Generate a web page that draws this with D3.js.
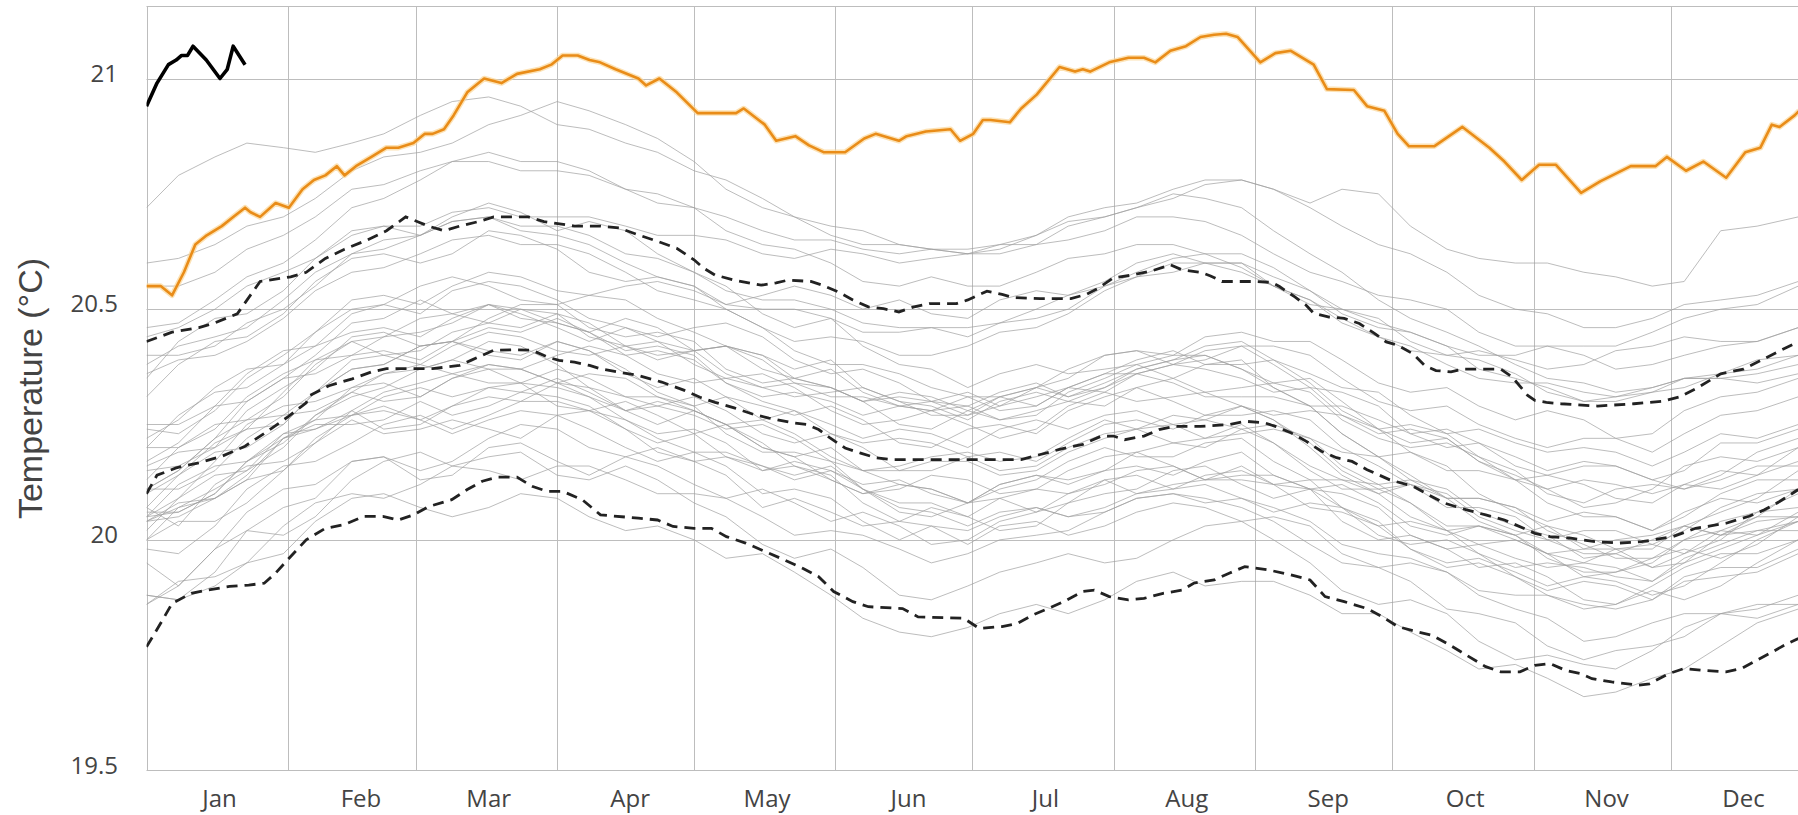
<!DOCTYPE html>
<html>
<head>
<meta charset="utf-8">
<script src="https://cdn.jsdelivr.net/npm/d3@7"></script>
<style>
  body { margin: 0; background: #fff; }
  svg { display: block; }
</style>
</head>
<body>
<svg id="chart" width="1798" height="815"></svg>
<script>
/* ---- axis categories / ticks ---- */
const monthNames  = ['Jan','Feb','Mar','Apr','May','Jun','Jul','Aug','Sep','Oct','Nov','Dec'];
const monthStarts = [0, 31, 59, 90, 120, 151, 181, 212, 243, 273, 304, 334];
const yTicks      = [19.5, 20, 20.5, 21];

/* ---- gray years, sampled about once a week (day of year) ---- */
const sampleDays = [0,7,15,22,30,37,45,52,60,67,75,82,90,97,105,112,120,127,135,142,150,157,165,172,180,187,195,202,210,217,225,232,240,247,255,262,270,277,285,292,300,307,315,322,330,337,345,353,362];
const grayYears = [1982,1983,1984,1985,1986,1987,1988,1989,1990,1991,1992,1993,1994,1995,1996,1997,1998,1999,2000,2001,2002,2003,2004,2005,2006,2007,2008,2009,2010,2011,2012,2013,2014,2015,2016,2017,2018,2019,2020,2021,2022];
const grayValues = [
  [19.88,19.87,19.93,20.02,20.07,20.09,20.17,20.18,20.13,20.14,20.20,20.21,20.17,20.14,20.18,20.20,20.17,20.14,20.07,20.09,20.06,20.03,20.04,20.07,20.05,20.02,20.03,20.08,20.10,20.11,20.15,20.16,20.12,20.09,20.11,20.12,20.08,20.03,20.01,20.03,20.00,19.97,19.98,19.98,19.94,19.95,20.01,20.04,20.05],
  [20.05,20.12,20.16,20.17,20.21,20.27,20.31,20.33,20.37,20.39,20.37,20.34,20.33,20.31,20.26,20.23,20.24,20.21,20.15,20.16,20.14,20.08,20.04,20.03,19.99,20.03,20.04,20.01,20.03,20.06,20.08,20.07,20.04,20.05,20.03,19.97,19.94,19.95,19.93,19.88,19.85,19.83,19.78,19.79,19.82,19.84,19.84,19.83,19.86],
  [19.86,19.90,19.98,20.02,20.01,20.05,20.13,20.17,20.19,20.16,20.18,20.19,20.14,20.13,20.16,20.13,20.08,20.05,19.99,19.96,19.98,19.94,19.88,19.87,19.90,19.93,19.95,19.97,19.95,19.96,20.00,20.03,20.04,20.00,19.95,19.89,19.86,19.87,19.84,19.78,19.74,19.75,19.73,19.72,19.76,19.81,19.84,19.85,19.88],
  [19.88,19.87,19.90,19.95,19.97,20.04,20.09,20.10,20.07,20.05,20.07,20.10,20.09,20.05,20.02,20.03,20.00,19.96,19.97,19.93,19.88,19.83,19.80,19.79,19.81,19.84,19.86,19.84,19.87,19.91,19.93,19.90,19.91,19.91,19.88,19.84,19.84,19.80,19.76,19.72,19.73,19.70,19.66,19.67,19.70,19.72,19.77,19.82,19.85],
  [19.95,19.90,19.98,20.06,20.11,20.12,20.17,20.18,20.15,20.17,20.22,20.25,20.24,20.20,20.18,20.16,20.12,20.09,20.11,20.08,20.04,20.06,20.03,19.99,20.00,20.04,20.06,20.08,20.13,20.14,20.11,20.14,20.15,20.12,20.13,20.13,20.10,20.05,20.02,20.03,20.01,19.97,19.95,19.98,19.99,19.97,20.00,20.06,20.10],
  [20.10,20.14,20.21,20.24,20.25,20.32,20.37,20.38,20.42,20.43,20.40,20.39,20.43,20.41,20.37,20.32,20.29,20.31,20.29,20.27,20.29,20.26,20.21,20.20,20.24,20.25,20.23,20.28,20.31,20.33,20.30,20.27,20.27,20.28,20.26,20.20,20.16,20.12,20.07,20.07,20.05,20.00,19.97,19.97,19.94,19.97,20.02,20.05,20.05],
  [20.05,20.09,20.17,20.25,20.29,20.30,20.33,20.36,20.37,20.39,20.43,20.42,20.38,20.33,20.31,20.31,20.29,20.23,20.19,20.19,20.17,20.11,20.07,20.06,20.03,20.06,20.07,20.05,20.06,20.09,20.10,20.09,20.07,20.04,19.99,19.95,19.94,19.91,19.85,19.84,19.82,19.77,19.74,19.76,19.77,19.79,19.84,19.86,19.86],
  [19.86,19.91,19.92,19.95,20.03,20.08,20.10,20.09,20.12,20.16,20.15,20.13,20.16,20.16,20.13,20.10,20.10,20.09,20.05,20.01,20.02,20.01,19.98,19.95,19.97,20.00,20.01,20.02,20.06,20.09,20.10,20.08,20.09,20.07,20.04,19.99,19.97,19.96,19.93,19.89,19.88,19.88,19.86,19.85,19.87,19.91,19.92,19.93,19.97],
  [20.07,20.03,20.12,20.16,20.17,20.21,20.28,20.24,20.25,20.29,20.31,20.30,20.34,20.33,20.28,20.25,20.28,20.25,20.20,20.18,20.13,20.10,20.12,20.11,20.08,20.12,20.14,20.12,20.15,20.19,20.21,20.20,20.24,20.21,20.15,20.11,20.11,20.08,20.02,19.99,20.00,19.97,19.92,19.93,19.95,20.00,20.02,20.01,20.04],
  [20.04,20.08,20.09,20.13,20.22,20.25,20.25,20.26,20.30,20.27,20.29,20.32,20.31,20.29,20.24,20.21,20.23,20.25,20.21,20.16,20.13,20.10,20.11,20.14,20.13,20.10,20.11,20.15,20.18,20.19,20.16,20.13,20.14,20.14,20.11,20.04,20.00,20.01,19.98,19.94,19.95,19.92,19.87,19.86,19.90,19.94,19.97,19.97,20.00],
  [20.00,20.07,20.11,20.15,20.23,20.26,20.27,20.29,20.26,20.23,20.26,20.28,20.27,20.24,20.20,20.17,20.19,20.16,20.10,20.11,20.09,20.04,20.00,20.03,20.02,20.05,20.07,20.05,20.07,20.10,20.12,20.13,20.16,20.12,20.07,20.06,20.03,19.98,19.94,19.95,19.92,19.89,19.91,19.90,19.87,19.92,19.94,19.94,19.98],
  [19.98,19.97,20.03,20.11,20.16,20.17,20.21,20.25,20.27,20.24,20.27,20.30,20.30,20.28,20.24,20.19,20.17,20.18,20.16,20.13,20.15,20.11,20.06,20.05,20.08,20.09,20.06,20.10,20.13,20.10,20.11,20.12,20.09,20.06,20.08,20.07,20.04,19.98,19.95,19.96,19.93,19.90,19.92,19.91,19.88,19.90,19.95,20.00,20.04],
  [20.04,20.05,20.09,20.13,20.15,20.22,20.27,20.28,20.26,20.29,20.33,20.32,20.35,20.32,20.28,20.29,20.27,20.24,20.25,20.22,20.17,20.15,20.15,20.17,20.17,20.14,20.15,20.19,20.22,20.24,20.27,20.26,20.24,20.25,20.22,20.19,20.18,20.14,20.09,20.09,20.07,20.04,20.06,20.05,20.02,20.06,20.09,20.08,20.11],
  [20.11,20.15,20.22,20.26,20.27,20.28,20.32,20.36,20.38,20.36,20.38,20.37,20.34,20.36,20.35,20.31,20.28,20.25,20.20,20.18,20.20,20.15,20.12,20.11,20.08,20.12,20.14,20.13,20.15,20.16,20.14,20.17,20.19,20.14,20.11,20.07,20.01,19.99,20.00,19.97,19.92,19.88,19.85,19.86,19.89,19.87,19.90,19.95,20.00],
  [20.00,20.04,20.04,20.08,20.15,20.21,20.26,20.23,20.24,20.26,20.24,20.22,20.27,20.28,20.26,20.22,20.19,20.19,20.16,20.14,20.16,20.11,20.08,20.08,20.05,20.09,20.11,20.10,20.12,20.15,20.16,20.13,20.13,20.12,20.11,20.10,20.07,20.01,19.98,19.99,19.96,19.94,19.95,19.94,19.91,19.95,19.98,20.01,20.06],
  [20.06,20.06,20.10,20.17,20.22,20.26,20.33,20.34,20.31,20.35,20.37,20.37,20.40,20.42,20.40,20.36,20.34,20.35,20.33,20.31,20.32,20.33,20.30,20.27,20.27,20.31,20.33,20.35,20.40,20.41,20.40,20.44,20.45,20.43,20.43,20.39,20.34,20.32,20.33,20.29,20.26,20.28,20.26,20.22,20.23,20.28,20.31,20.32,20.35],
  [20.35,20.43,20.48,20.49,20.54,20.61,20.67,20.68,20.66,20.70,20.73,20.71,20.67,20.69,20.67,20.62,20.58,20.55,20.49,20.46,20.48,20.42,20.38,20.37,20.33,20.36,20.38,20.36,20.37,20.38,20.35,20.38,20.39,20.33,20.29,20.23,20.18,20.19,20.16,20.10,20.06,20.03,19.98,20.00,20.01,20.03,20.01,20.02,20.04],
  [20.04,20.07,20.09,20.14,20.22,20.24,20.27,20.31,20.33,20.31,20.33,20.34,20.29,20.28,20.30,20.27,20.23,20.18,20.15,20.17,20.15,20.12,20.13,20.10,20.08,20.11,20.13,20.17,20.20,20.18,20.18,20.21,20.22,20.17,20.13,20.07,20.03,20.04,20.02,19.97,19.94,19.95,19.94,19.92,19.91,19.96,19.99,20.02,20.02],
  [20.02,20.09,20.14,20.15,20.20,20.27,20.32,20.30,20.31,20.35,20.38,20.37,20.34,20.31,20.28,20.30,20.28,20.25,20.26,20.23,20.18,20.15,20.16,20.18,20.19,20.17,20.18,20.22,20.26,20.24,20.25,20.22,20.23,20.24,20.22,20.16,20.12,20.13,20.11,20.06,20.03,20.01,19.96,19.97,20.00,20.03,20.01,20.05,20.11],
  [20.11,20.15,20.22,20.30,20.35,20.36,20.40,20.41,20.39,20.43,20.46,20.45,20.48,20.45,20.41,20.42,20.40,20.34,20.31,20.32,20.30,20.27,20.29,20.28,20.25,20.22,20.24,20.29,20.32,20.30,20.31,20.32,20.29,20.27,20.28,20.27,20.24,20.19,20.15,20.15,20.13,20.08,20.05,20.05,20.02,20.05,20.10,20.13,20.13],
  [20.13,20.20,20.25,20.26,20.31,20.38,20.43,20.44,20.48,20.49,20.47,20.46,20.49,20.47,20.42,20.39,20.41,20.42,20.40,20.35,20.33,20.30,20.25,20.24,20.28,20.31,20.33,20.31,20.33,20.36,20.38,20.37,20.35,20.32,20.33,20.32,20.29,20.23,20.20,20.21,20.18,20.15,20.17,20.16,20.13,20.11,20.14,20.19,20.22],
  [20.22,20.26,20.33,20.37,20.38,20.42,20.49,20.51,20.55,20.57,20.55,20.52,20.51,20.53,20.52,20.48,20.45,20.42,20.37,20.35,20.37,20.32,20.29,20.30,20.32,20.29,20.31,20.33,20.32,20.36,20.38,20.39,20.42,20.38,20.33,20.27,20.23,20.24,20.22,20.17,20.14,20.11,20.07,20.08,20.11,20.16,20.18,20.17,20.20],
  [20.20,20.20,20.24,20.31,20.36,20.39,20.40,20.44,20.45,20.47,20.51,20.49,20.46,20.43,20.46,20.43,20.38,20.35,20.36,20.33,20.28,20.25,20.26,20.28,20.29,20.26,20.28,20.30,20.29,20.33,20.35,20.32,20.33,20.34,20.32,20.26,20.22,20.20,20.21,20.18,20.13,20.11,20.13,20.12,20.10,20.12,20.11,20.14,20.20],
  [20.20,20.27,20.32,20.33,20.38,20.45,20.50,20.51,20.49,20.54,20.56,20.55,20.52,20.48,20.46,20.44,20.46,20.47,20.44,20.39,20.36,20.37,20.34,20.30,20.29,20.32,20.34,20.31,20.34,20.37,20.39,20.42,20.43,20.39,20.34,20.28,20.24,20.25,20.23,20.18,20.15,20.10,20.08,20.11,20.12,20.11,20.13,20.16,20.16],
  [20.16,20.19,20.20,20.24,20.32,20.39,20.43,20.40,20.41,20.45,20.47,20.50,20.49,20.44,20.42,20.40,20.41,20.42,20.39,20.34,20.31,20.31,20.29,20.28,20.31,20.31,20.29,20.33,20.36,20.39,20.41,20.38,20.38,20.39,20.36,20.33,20.32,20.27,20.23,20.24,20.21,20.19,20.20,20.19,20.16,20.19,20.23,20.22,20.25],
  [20.25,20.25,20.29,20.36,20.41,20.42,20.45,20.46,20.44,20.48,20.51,20.48,20.47,20.45,20.40,20.41,20.39,20.34,20.30,20.28,20.23,20.21,20.22,20.21,20.18,20.15,20.16,20.20,20.23,20.24,20.21,20.22,20.25,20.21,20.16,20.13,20.12,20.08,20.03,20.03,20.01,19.96,19.93,19.93,19.96,19.98,19.96,19.99,20.05],
  [20.05,20.06,20.10,20.17,20.23,20.24,20.28,20.32,20.34,20.36,20.34,20.34,20.37,20.35,20.31,20.29,20.31,20.28,20.23,20.21,20.23,20.20,20.15,20.15,20.18,20.19,20.17,20.21,20.25,20.26,20.24,20.27,20.29,20.26,20.21,20.15,20.11,20.12,20.10,20.05,20.02,20.00,20.02,20.02,19.99,20.02,20.07,20.10,20.11],
  [20.11,20.11,20.15,20.22,20.27,20.32,20.39,20.40,20.38,20.42,20.45,20.44,20.41,20.40,20.42,20.43,20.41,20.36,20.33,20.34,20.33,20.30,20.31,20.30,20.27,20.29,20.33,20.37,20.40,20.41,20.38,20.41,20.42,20.42,20.40,20.35,20.30,20.28,20.29,20.25,20.22,20.20,20.22,20.22,20.19,20.23,20.27,20.28,20.31],
  [20.31,20.38,20.43,20.44,20.49,20.56,20.61,20.62,20.60,20.62,20.67,20.66,20.63,20.58,20.56,20.57,20.55,20.50,20.46,20.41,20.38,20.38,20.36,20.33,20.31,20.28,20.29,20.33,20.36,20.36,20.34,20.31,20.31,20.31,20.29,20.23,20.18,20.13,20.09,20.09,20.07,20.02,19.99,19.96,19.96,20.00,20.04,20.06,20.07],
  [20.07,20.14,20.19,20.20,20.25,20.32,20.37,20.38,20.42,20.43,20.41,20.40,20.43,20.41,20.36,20.33,20.35,20.31,20.26,20.28,20.25,20.22,20.24,20.23,20.20,20.24,20.26,20.24,20.27,20.28,20.25,20.26,20.29,20.26,20.20,20.14,20.10,20.12,20.09,20.04,20.01,20.03,20.01,19.98,19.98,20.03,20.06,20.09,20.15],
  [20.15,20.16,20.20,20.28,20.33,20.37,20.44,20.45,20.42,20.43,20.48,20.51,20.51,20.46,20.44,20.45,20.43,20.37,20.34,20.35,20.33,20.30,20.32,20.31,20.28,20.26,20.27,20.32,20.35,20.38,20.40,20.40,20.37,20.34,20.35,20.30,20.24,20.21,20.22,20.17,20.13,20.14,20.12,20.09,20.08,20.12,20.15,20.14,20.17],
  [20.17,20.21,20.29,20.30,20.35,20.40,20.47,20.48,20.52,20.49,20.51,20.50,20.47,20.45,20.48,20.46,20.41,20.42,20.40,20.37,20.39,20.33,20.30,20.29,20.26,20.30,20.32,20.30,20.33,20.37,20.39,20.40,20.37,20.33,20.29,20.29,20.26,20.23,20.24,20.21,20.16,20.14,20.16,20.16,20.13,20.15,20.21,20.21,20.24],
  [20.24,20.23,20.28,20.35,20.40,20.45,20.52,20.53,20.51,20.55,20.58,20.57,20.54,20.53,20.55,20.56,20.54,20.51,20.53,20.55,20.53,20.50,20.52,20.49,20.48,20.52,20.54,20.53,20.55,20.58,20.61,20.62,20.59,20.55,20.51,20.50,20.48,20.43,20.40,20.41,20.39,20.37,20.38,20.41,20.42,20.44,20.43,20.43,20.46],
  [20.44,20.46,20.50,20.55,20.58,20.61,20.66,20.68,20.68,20.71,20.72,20.70,20.70,20.70,20.68,20.66,20.66,20.65,20.62,20.61,20.63,20.62,20.60,20.61,20.62,20.63,20.66,20.69,20.70,20.72,20.74,20.77,20.78,20.76,20.73,20.76,20.75,20.68,20.63,20.61,20.60,20.60,20.58,20.57,20.55,20.56,20.67,20.68,20.70],
  [20.72,20.79,20.83,20.86,20.85,20.84,20.86,20.88,20.92,20.95,20.96,20.94,20.90,20.89,20.86,20.84,20.80,20.78,20.74,20.70,20.68,20.67,20.64,20.63,20.62,20.64,20.64,20.65,20.67,20.70,20.70,20.69,20.66,20.62,20.58,20.56,20.53,20.52,20.50,20.45,20.42,20.42,20.40,20.37,20.38,20.40,20.42,20.43,20.46],
  [20.46,20.47,20.52,20.57,20.60,20.65,20.72,20.74,20.78,20.82,20.84,20.82,20.82,20.80,20.76,20.75,20.72,20.67,20.64,20.63,20.60,20.56,20.55,20.57,20.55,20.55,20.58,20.61,20.62,20.64,20.64,20.62,20.62,20.59,20.54,20.49,20.46,20.45,20.42,20.37,20.35,20.33,20.30,20.30,20.32,20.35,20.36,20.37,20.40],
  [20.40,20.40,20.42,20.47,20.50,20.55,20.62,20.65,20.66,20.69,20.70,20.68,20.68,20.66,20.62,20.61,20.58,20.54,20.52,20.52,20.50,20.47,20.46,20.46,20.44,20.47,20.48,20.50,20.55,20.57,20.58,20.60,20.60,20.57,20.54,20.50,20.47,20.45,20.42,20.40,20.40,20.42,20.42,20.42,20.45,20.48,20.50,20.51,20.55],
  [20.55,20.55,20.58,20.63,20.66,20.70,20.76,20.77,20.80,20.82,20.82,20.80,20.80,20.79,20.76,20.73,20.72,20.70,20.67,20.65,20.65,20.63,20.62,20.63,20.63,20.64,20.66,20.70,20.72,20.73,20.76,20.78,20.78,20.76,20.72,20.68,20.64,20.62,20.58,20.53,20.50,20.49,20.46,20.46,20.48,20.51,20.52,20.53,20.56],
  [20.60,20.61,20.64,20.68,20.70,20.74,20.80,20.83,20.84,20.86,20.90,20.92,20.95,20.93,20.90,20.87,20.82,20.76,20.72,20.70,20.66,20.64,20.64,20.63,20.62,20.62,20.64,20.68,20.70,20.72,20.75,20.74,20.72,20.67,20.62,20.58,20.52,20.48,20.45,20.42,20.38,20.35,20.34,20.32,20.33,20.35,20.35,20.34,20.36],
  [20.36,20.39,20.40,20.43,20.48,20.54,20.58,20.59,20.62,20.65,20.66,20.64,20.64,20.62,20.58,20.54,20.52,20.50,20.46,20.43,20.44,20.43,20.40,20.40,20.42,20.45,20.46,20.49,20.54,20.57,20.60,20.60,20.58,20.55,20.52,20.47,20.44,20.42,20.38,20.35,20.34,20.34,20.32,20.31,20.33,20.35,20.35,20.36,20.38],
  [20.38,20.42,20.44,20.46,20.52,20.58,20.62,20.63,20.66,20.69,20.70,20.67,20.66,20.64,20.60,20.57,20.55,20.51,20.50,20.50,20.48,20.45,20.45,20.46,20.46,20.47,20.50,20.53,20.56,20.60,20.62,20.60,20.60,20.55,20.52,20.48,20.44,20.41,20.40,20.39,20.36,20.32,20.30,20.31,20.32,20.33,20.36,20.39,20.40]
];

/* ---- 2023 (orange) as [day, value] ---- */
const year2023 = [
  [0,20.55],[3.1,20.55],[5.6,20.53],[8.2,20.58],[10.7,20.64],[13.2,20.66],[16.5,20.68],[19,20.70],
  [21.6,20.72],[22.8,20.71],[24.9,20.70],[28.3,20.73],[31.2,20.72],[34.2,20.76],[36.7,20.78],[39.2,20.79],
  [41.7,20.81],[43.4,20.79],[45.9,20.81],[49.3,20.83],[52.6,20.85],[55.2,20.85],[58.5,20.86],[61,20.88],
  [62.7,20.88],[65.2,20.89],[67.3,20.92],[70.3,20.97],[74,21.00],[77.8,20.99],[81.2,21.01],[86.2,21.02],
  [88.7,21.03],[91.2,21.05],[94.5,21.05],[97.1,21.04],[99.4,21.035],[102.8,21.02],[107.8,21.00],[109.5,20.985],
  [112.4,21.00],[116.2,20.97],[120.8,20.925],[129.2,20.925],[130.9,20.935],[135.5,20.90],[138,20.865],[142.2,20.875],
  [145.2,20.855],[148.5,20.84],[153.1,20.84],[157.3,20.87],[159.8,20.88],[164.9,20.865],[166.6,20.875],[170.8,20.885],
  [176.2,20.89],[178.3,20.865],[181.2,20.88],[183.3,20.91],[185,20.91],[189.2,20.905],[191.7,20.935],[195.1,20.965],
  [200.1,21.025],[203.5,21.015],[205.2,21.02],[206.8,21.015],[211,21.035],[215.2,21.045],[218.6,21.045],[221.1,21.035],
  [224.4,21.06],[227.8,21.07],[231,21.09],[234,21.095],[236.6,21.097],[239.1,21.09],[244.1,21.035],[247.4,21.055],
  [250.8,21.06],[255.8,21.03],[258.7,20.977],[264.6,20.975],[267.5,20.94],[271.3,20.93],[274.2,20.88],[276.7,20.853],
  [282.2,20.853],[288.4,20.895],[294.3,20.85],[297.6,20.82],[301.4,20.78],[305.2,20.813],[308.9,20.813],[314.4,20.752],
  [318.6,20.777],[325.3,20.81],[330.7,20.81],[333.2,20.83],[337.4,20.80],[341.2,20.82],[346.2,20.785],[350.4,20.84],
  [353.7,20.85],[356.2,20.90],[357.9,20.895],[361.2,20.92],[362.2,20.93]
];

/* ---- 2024 (black) ---- */
const year2024 = [
  [0,20.94],[2.3,20.99],[4.8,21.03],[6.5,21.04],[7.7,21.05],[9,21.05],[10.2,21.07],
  [13.1,21.04],[16.1,21.00],[17.7,21.02],[19,21.07],[20.3,21.05],[21.6,21.03]
];

/* ---- climatology: mean and +/- 2 sigma (dashed) ---- */
const upperLine = [
  [0,20.43],[5.6,20.45],[11.5,20.46],[14.9,20.47],[19.9,20.49],[24.9,20.56],[31.6,20.57],[35,20.58],
  [39.2,20.61],[43.4,20.63],[48.4,20.65],[52.6,20.67],[56.8,20.70],[59.3,20.69],[61.8,20.68],[65.2,20.67],
  [68.6,20.68],[72.8,20.69],[76.1,20.70],[83.7,20.70],[87.1,20.69],[93.8,20.68],[99.5,20.68],[103.6,20.676],
  [107.8,20.661],[112,20.647],[116.2,20.632],[120,20.607],[122.1,20.589],[124.6,20.574],[128.8,20.563],[134.7,20.552],
  [138,20.557],[140.6,20.563],[145.6,20.56],[148.1,20.552],[151.5,20.538],[154.8,20.52],[158.2,20.505],[161.5,20.501],
  [164.9,20.494],[168.2,20.505],[171.6,20.512],[177.5,20.512],[180,20.52],[184.2,20.539],[187.5,20.532],[190,20.525],
  [195.9,20.523],[202.6,20.523],[206,20.532],[208.5,20.545],[211.9,20.568],[216.1,20.574],[220.3,20.583],[224.4,20.596],
  [227,20.585],[231,20.58],[233.2,20.572],[235.7,20.56],[243.3,20.56],[246.6,20.558],[248.3,20.549],[251.6,20.527],
  [254.1,20.509],[255.8,20.491],[259.2,20.483],[262.5,20.48],[265.8,20.469],[269.2,20.447],[271.7,20.429],[274.2,20.422],
  [277.6,20.403],[280.1,20.378],[282.6,20.367],[285.9,20.364],[288.4,20.37],[296.8,20.37],[299.3,20.353],[302.7,20.313],
  [304.3,20.302],[306.8,20.298],[310,20.295],[318,20.29],[326,20.295],[332,20.30],[336,20.31],[340,20.33],
  [345,20.36],[350,20.37],[354,20.39],[358,20.41],[362.2,20.43]
];
const meanLine = [
  [0,20.10],[2.3,20.14],[6.5,20.156],[11.5,20.167],[16.5,20.181],[21.6,20.203],[26.6,20.236],[31.2,20.268],
  [35,20.297],[35.8,20.313],[40,20.334],[45.1,20.349],[49.3,20.364],[52.6,20.371],[62.7,20.371],[68.6,20.378],
  [71.1,20.389],[73.6,20.40],[76.1,20.411],[80.3,20.412],[84.5,20.411],[87.9,20.396],[90.4,20.389],[93.8,20.385],
  [97.1,20.378],[99.5,20.371],[107.8,20.356],[112.9,20.342],[117.9,20.324],[121.3,20.309],[124.6,20.298],[128.8,20.286],
  [133,20.272],[136.4,20.264],[141.4,20.254],[144.7,20.25],[147.3,20.239],[149.8,20.221],[153.1,20.199],[156.5,20.188],
  [159.8,20.178],[163.2,20.174],[191.7,20.174],[195.9,20.185],[200.1,20.196],[205.2,20.207],[209.3,20.225],[211.9,20.225],
  [214.4,20.217],[218.6,20.225],[221.9,20.239],[225.3,20.246],[231,20.246],[237.4,20.25],[240.7,20.257],[244.9,20.254],
  [247.4,20.246],[250.8,20.232],[254.1,20.214],[257.5,20.192],[260.8,20.178],[264.2,20.17],[267.5,20.152],[272.5,20.13],
  [277.6,20.116],[280.9,20.098],[284.3,20.08],[289.3,20.065],[293.5,20.054],[297.6,20.043],[301.8,20.025],[304.3,20.014],
  [307.6,20.007],[311.8,20.004],[317.6,19.996],[322.7,19.993],[327.7,19.996],[334.5,20.007],[339.5,20.025],[346.2,20.036],
  [351.2,20.051],[354.6,20.065],[357.9,20.083],[362,20.109]
];
const lowerLine = [
  [0,19.768],[3.1,19.819],[5.6,19.862],[9.8,19.884],[13.2,19.891],[18.2,19.899],[22.4,19.902],[25.8,19.906],
  [28.3,19.928],[31.6,19.964],[35,20.00],[39.2,20.025],[43.4,20.033],[47.6,20.051],[51.8,20.051],[55.2,20.043],
  [58.5,20.054],[61.8,20.072],[66.9,20.087],[70.3,20.109],[73.6,20.127],[77,20.136],[81.2,20.136],[84.5,20.116],
  [87.9,20.105],[91.2,20.105],[95.5,20.087],[99.5,20.054],[107.8,20.047],[112,20.043],[115.4,20.029],[120,20.025],
  [123.8,20.025],[127.1,20.007],[131.3,19.993],[135.5,19.975],[139.7,19.957],[143.9,19.938],[147.3,19.92],[150.6,19.888],
  [154.8,19.866],[158.2,19.855],[165.7,19.851],[169.1,19.833],[179.1,19.83],[182.5,19.808],[187.5,19.812],[190.9,19.819],
  [194.2,19.837],[197.6,19.851],[201,19.866],[205.2,19.888],[207.7,19.891],[211,19.877],[215.2,19.87],[218.6,19.873],
  [222.8,19.884],[227,19.891],[229.5,19.906],[231,19.909],[234,19.913],[237.4,19.928],[240.7,19.942],[245.8,19.935],
  [250.8,19.924],[255,19.913],[258.3,19.877],[262.5,19.866],[267.5,19.851],[270.9,19.833],[274.2,19.812],[278.4,19.801],
  [281.8,19.793],[285.1,19.775],[289.3,19.75],[293.5,19.725],[296.8,19.714],[301,19.714],[304.3,19.728],[307.6,19.732],
  [311,19.717],[314.3,19.71],[316.8,19.699],[321.1,19.692],[326.9,19.685],[329.4,19.688],[333.6,19.71],[337,19.721],
  [341.2,19.717],[346.2,19.714],[349.6,19.721],[352.9,19.739],[356.3,19.757],[359.6,19.775],[362,19.786]
];

/* ---- layout ---- */
const W = 1798, H = 815;
const plot = { left: 146.5, top: 6.5, right: W, bottom: 770.5 };

const x = d3.scaleLinear().domain([0, 334]).range([plot.left, 1670.5]);
const y = d3.scaleLinear().domain([19.5, 21]).range([plot.bottom, 78.5]);

const svg = d3.select('#chart');

svg.append('defs').append('clipPath').attr('id', 'clip')
  .append('rect')
  .attr('x', plot.left).attr('y', plot.top)
  .attr('width', plot.right - plot.left).attr('height', plot.bottom - plot.top);

/* grid */
const grid = svg.append('g').attr('stroke', '#bdbdbd').attr('stroke-width', 1);
grid.selectAll('line.h')
  .data(yTicks.slice(1))
  .join('line')
  .attr('x1', plot.left).attr('x2', plot.right)
  .attr('y1', d => Math.round(y(d)) + 0.5).attr('y2', d => Math.round(y(d)) + 0.5);
grid.selectAll('line.v')
  .data(monthStarts)
  .join('line')
  .attr('x1', d => Math.round(x(d)) + 0.5).attr('x2', d => Math.round(x(d)) + 0.5)
  .attr('y1', plot.top).attr('y2', plot.bottom);
/* frame: top + bottom axis */
grid.append('line').attr('x1', plot.left).attr('x2', plot.right)
  .attr('y1', plot.top).attr('y2', plot.top);
grid.append('line').attr('x1', plot.left).attr('x2', plot.right)
  .attr('y1', plot.bottom).attr('y2', plot.bottom);

/* lines */
const lines = svg.append('g').attr('clip-path', 'url(#clip)');
const linePairs = d3.line().x(d => x(d[0])).y(d => y(d[1]));
const lineSampled = d3.line()
  .defined((d, i) => i < sampleDays.length)
  .x((d, i) => x(sampleDays[i]))
  .y(d => y(d));

lines.append('g')
  .selectAll('path')
  .data(grayValues)
  .join('path')
  .attr('d', lineSampled)
  .attr('fill', 'none')
  .attr('stroke', '#a0a0a0')
  .attr('stroke-opacity', 0.7)
  .attr('stroke-width', 1);

lines.append('g')
  .selectAll('path')
  .data([upperLine, meanLine, lowerLine])
  .join('path')
  .attr('d', linePairs)
  .attr('fill', 'none')
  .attr('stroke', '#222')
  .attr('stroke-width', 2.8)
  .attr('stroke-dasharray', '11,7');

/* 2023 with a soft halo */
lines.append('path').attr('d', linePairs(year2023))
  .attr('fill', 'none').attr('stroke', '#fbd596').attr('stroke-width', 5.5)
  .attr('stroke-opacity', 0.7).attr('stroke-linejoin', 'round');
lines.append('path').attr('d', linePairs(year2023))
  .attr('fill', 'none').attr('stroke', '#e98c18').attr('stroke-width', 2.6)
  .attr('stroke-linejoin', 'round');

/* 2024 */
lines.append('path').attr('d', linePairs(year2024))
  .attr('fill', 'none').attr('stroke', '#000').attr('stroke-width', 3.6)
  .attr('stroke-linejoin', 'round');

/* y tick labels */
svg.append('g')
  .selectAll('text')
  .data(yTicks)
  .join('text')
  .attr('x', 118)
  .attr('y', d => y(d) + 3)
  .attr('text-anchor', 'end')
  .attr('font-family', '"Open Sans", sans-serif')
  .attr('font-size', 24)
  .attr('fill', '#444')
  .text(d => d);

/* month labels */
svg.append('g')
  .selectAll('text')
  .data(monthNames)
  .join('text')
  .attr('x', (d, i) => x(monthStarts[i] + 16))
  .attr('y', 807)
  .attr('text-anchor', 'middle')
  .attr('font-family', '"Open Sans", sans-serif')
  .attr('font-size', 24)
  .attr('fill', '#444')
  .text(d => d);

/* y title */
svg.append('text')
  .attr('transform', `translate(42,${(plot.top + plot.bottom) / 2}) rotate(-90)`)
  .attr('text-anchor', 'middle')
  .attr('font-family', '"Liberation Sans", Arial, sans-serif')
  .attr('font-size', 34)
  .attr('fill', '#444')
  .text('Temperature (°C)');
</script>
</body>
</html>
